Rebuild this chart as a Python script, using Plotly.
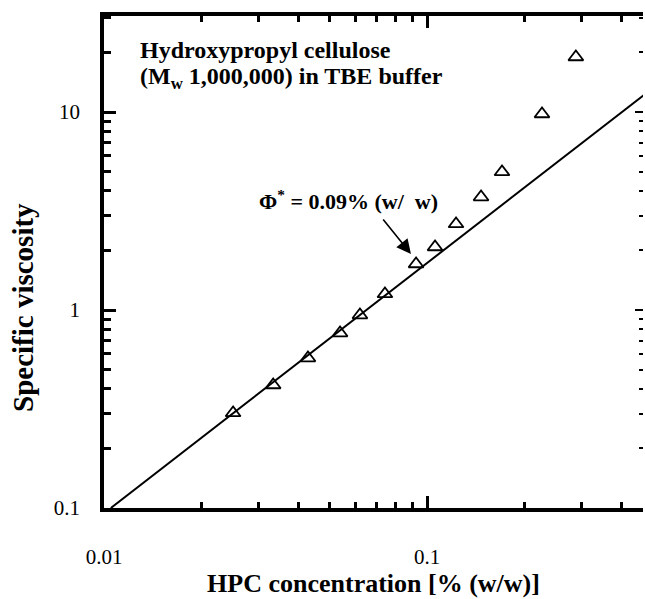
import numpy as np
import plotly.graph_objects as go

# Data
hpc_conc = [0.0251, 0.0334, 0.0428, 0.0538, 0.0620, 0.0741, 0.0925, 0.1059,
            0.1230, 0.1470, 0.1707, 0.227, 0.289]
spec_visc = [0.302, 0.418, 0.572, 0.765, 0.943, 1.205, 1.707, 2.08,
             2.72, 3.72, 4.98, 9.77, 18.96]
fit_x = [0.0105, 0.473]
fit_y = [0.1, 12.3]

x_major = [0.01, 0.1]
x_major_text = ["0.01", "0.1"]
x_minor = [0.02, 0.03, 0.04, 0.05, 0.06, 0.07, 0.08, 0.09, 0.2, 0.3, 0.4]
y_major = [0.1, 1, 10]
y_major_text = ["0.1", "1", "10"]
y_minor = [0.2, 0.3, 0.4, 0.5, 0.6, 0.7, 0.8, 0.9,
           2, 3, 4, 5, 6, 7, 8, 9, 20, 30]

FONT = "Liberation Serif"
XR = [-2, -2 + 539 / 323]
YR = [-1, -1 + 492 / 198]

fig = go.Figure()
fig.add_trace(go.Scatter(x=fit_x, y=fit_y, mode="lines",
                         line=dict(color="black", width=2), showlegend=False))
fig.add_trace(go.Scatter(x=hpc_conc, y=spec_visc, mode="markers",
                         marker=dict(symbol="triangle-up-open", size=13,
                                     color="black", line=dict(width=1.8)),
                         showlegend=False))
# invisible trace on right axis for mirrored ticks
fig.add_trace(go.Scatter(x=[fit_x[0]], y=[fit_y[0]], yaxis="y2", mode="markers",
                         marker=dict(opacity=0), showlegend=False, hoverinfo="skip"))

fig.update_layout(
    width=645, height=599,
    margin=dict(l=104, r=2, t=16, b=91),
    paper_bgcolor="white", plot_bgcolor="white",
    font=dict(family=FONT, color="black"),
    xaxis=dict(type="log", range=XR, showgrid=False, zeroline=False,
               showline=True, linewidth=3.5, linecolor="black", mirror="ticks",
               ticks="inside", ticklen=12, tickwidth=2.5, tickcolor="black",
               tickmode="array", tickvals=x_major, ticktext=x_major_text,
               tickfont=dict(size=21, family=FONT), ticklabelstandoff=27,
               minor=dict(ticks="inside", ticklen=6, tickwidth=2.5,
                          tickcolor="black", tickmode="array",
                          tickvals=x_minor, showgrid=False),
               title=dict(text="<b>HPC concentration [% (w/w)]</b>",
                          font=dict(size=26, family=FONT), standoff=6),
               automargin=False),
    yaxis=dict(type="log", range=YR, showgrid=False, zeroline=False,
               showline=True, linewidth=3.5, linecolor="black", mirror=False,
               ticks="inside", ticklen=12, tickwidth=2.5, tickcolor="black",
               tickmode="array", tickvals=y_major, ticktext=y_major_text,
               tickfont=dict(size=21, family=FONT), ticklabelstandoff=16,
               minor=dict(ticks="inside", ticklen=7, tickwidth=2.5,
                          tickcolor="black", tickmode="array",
                          tickvals=y_minor, showgrid=False),
               automargin=False),
    yaxis2=dict(type="log", range=YR, overlaying="y", side="right",
                showgrid=False, zeroline=False, showline=False,
                ticks="inside", ticklen=8, tickwidth=2, tickcolor="black",
                tickmode="array", tickvals=y_major, showticklabels=False,
                minor=dict(ticks="inside", ticklen=4, tickwidth=2,
                           tickcolor="black", tickmode="array",
                           tickvals=y_minor, showgrid=False)),
)

# y-axis title placed as a rotated annotation (sits below the plot centre)
fig.add_annotation(xref="paper", yref="paper", x=(23 - 104) / 539,
                   y=(508 - 308) / 492, xanchor="center", yanchor="middle",
                   textangle=-90, showarrow=False,
                   text="<b>Specific viscosity</b>",
                   font=dict(size=29, family=FONT))
fig.add_annotation(xref="paper", yref="paper", x=34 / 539, y=(508 - 50) / 492,
                   xanchor="left", yanchor="middle", showarrow=False,
                   text="<b>Hydroxypropyl cellulose</b>",
                   font=dict(size=24, family=FONT))
fig.add_annotation(xref="paper", yref="paper", x=34 / 539, y=(508 - 78) / 492,
                   xanchor="left", yanchor="middle", showarrow=False,
                   text="<b>(M<sub>w</sub> 1,000,000) in TBE buffer</b>",
                   font=dict(size=24, family=FONT))
fig.add_annotation(xref="paper", yref="paper", x=(348 - 104) / 539,
                   y=(508 - 200) / 492, xanchor="center", yanchor="middle",
                   showarrow=False,
                   text="<b>Φ<sup>*</sup> = 0.09% (w/  w)</b>",
                   font=dict(size=22, family=FONT))
fig.add_annotation(x=np.log10(0.0892), y=np.log10(1.92), xref="x", yref="y",
                   ax=-29, ay=-36, showarrow=True, arrowhead=2, arrowsize=1.8,
                   arrowwidth=1.6, arrowcolor="black", text="")

fig.write_html("out.html")
